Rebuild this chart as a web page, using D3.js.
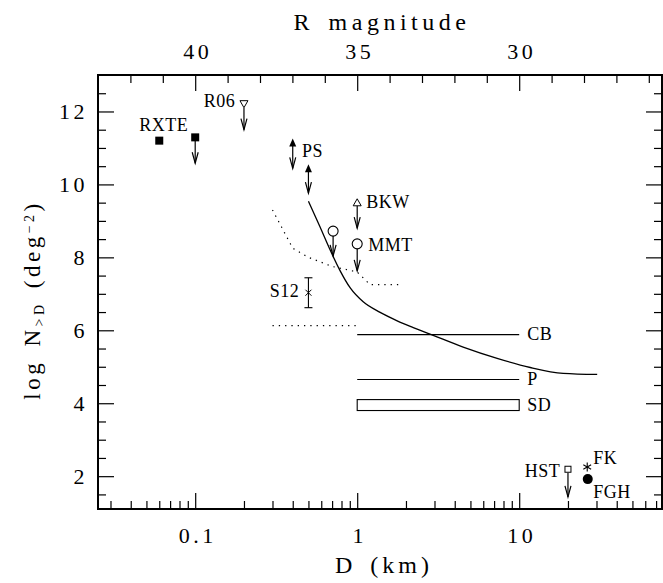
<!DOCTYPE html>
<html>
<head>
<meta charset="utf-8">
<script src="https://cdn.jsdelivr.net/npm/d3@7"></script>
<style>
  body { margin: 0; background: #fff; }
  text { font-family: "Liberation Serif", serif; fill: #000; }
</style>
</head>
<body>
<div id="chart"></div>
<script>
// model cumulative curve (solid)
const curveD = [0.5, 0.59, 0.681, 0.785, 0.906, 1.089, 1.386, 1.766, 2.218, 2.945, 4.51, 7.31, 11.7, 18.7, 30.3];
const curveN = [9.54, 8.83, 8.20, 7.63, 7.16, 6.78, 6.49, 6.26, 6.075, 5.86, 5.54, 5.23, 4.98, 4.82, 4.79];

// dotted curves
const dotD = [0.3, 0.4, 0.5, 0.7, 1.0, 1.2, 1.8];
const dotN = [9.3, 8.25, 8.0, 7.75, 7.6, 7.25, 7.25];
const dot2D = [0.3, 1.0];
const dot2N = [6.13, 6.13];

// horizontal ranges CB, P and the SD box
const bandD = [1, 10];
const cbN = 5.88;
const pN = 4.65;
const sdN = [3.80, 4.10];

// upper limits: marker at top, arrow down
const limD = [0.1, 0.2, 0.71, 1.0, 1.0, 20];
const limTop = [11.29, 12.2, 8.72, 8.37, 9.51, 2.19];
const limBot = [10.58, 11.5, 8.04, 7.63, 8.80, 1.43];
const limSym = ["fsquare", "dtri", "circle", "circle", "utri", "osquare"];

// PS ranges
const psD = [0.4, 0.5];
const psHi = [11.26, 10.55];
const psLo = [10.44, 9.76];

// single points
const rxteD = 0.06, rxteN = 11.2;
const fkD = 26.3, fkN = 2.25;
const fghD = 26.5, fghN = 1.92;

// S12 error bar
const s12D = 0.5, s12N = 7.03, s12Lo = 6.62, s12Hi = 7.44;

// labels (anchor in data units)
const labelText = ["RXTE", "R06", "PS", "BKW", "MMT", "S12", "CB", "P", "SD", "HST", "FK", "FGH"];
const labelD = [0.064, 0.177, 0.457, 1.137, 1.17, 0.439, 11.2, 11.2, 11.2, 17.9, 28.6, 28.6];
const labelN = [11.47, 12.13, 10.75, 9.35, 8.17, 6.91, 5.73, 4.50, 3.78, 1.98, 2.33, 1.40];
const labelAnchor = ["middle", "end", "start", "start", "start", "end", "start", "start", "start", "end", "start", "start"];

// axis ticks
const xMajor = [0.1, 1, 10];
const yMajor = [2, 4, 6, 8, 10, 12];
const rMajor = [30, 35, 40];

var width = 663, height = 583;
var L = 98, R = 663, T = 75, B = 509;

var svg = d3.select("#chart")
  .append("svg")
    .attr("width", width)
    .attr("height", height);

var x = d3.scaleLog()
  .domain([Math.pow(10, -1.6), Math.pow(10, -1.6 + (R - L) / 162)])
  .range([L, R]);
var y = d3.scaleLinear().domain([1.1, 13]).range([B, T]);
// R magnitude = 35 - 5 log D
var xTop = d3.scaleLinear()
  .domain([35 - 5 * Math.log10(x.domain()[0]), 35 - 5 * Math.log10(x.domain()[1])])
  .range([L, R]);

// minor tick values
var xMinor = [];
[0.01, 0.1, 1, 10].forEach(function(dec) {
  for (var m = 2; m <= 9; m++) {
    var v = dec * m;
    if (v > x.domain()[0] && v < x.domain()[1]) xMinor.push(v);
  }
});
var yMinor = d3.range(1.5, 13, 0.5).filter(function(v) { return v % 2 !== 0; });
var rMinor = d3.range(26, 43, 1).filter(function(v) { return v % 5 !== 0; });

function styleAxis(g) {
  g.attr("font-size", null).attr("font-family", null);
  g.select(".domain").remove();
  g.selectAll(".tick line").attr("stroke", "#000").attr("stroke-width", 1.2);
  g.selectAll(".tick text")
    .style("font-size", "22px")
    .attr("letter-spacing", "3.5px")
    .attr("fill", "#000");
}

// bottom axis
svg.append("g").attr("transform", "translate(0," + B + ")")
  .call(d3.axisBottom(x).tickValues(xMajor).tickSize(-16).tickPadding(18)
    .tickFormat(function(d) { return d === 0.1 ? "0.1" : String(d); }))
  .call(styleAxis)
  .selectAll(".tick text").attr("dx", "2px");
svg.append("g").attr("transform", "translate(0," + B + ")")
  .call(d3.axisBottom(x).tickValues(xMinor).tickSize(-8).tickFormat(""))
  .call(styleAxis);

// top axis
svg.append("g").attr("transform", "translate(0," + T + ")")
  .call(d3.axisTop(xTop).tickValues(rMajor).tickSize(-16).tickPadding(16))
  .call(styleAxis)
  .selectAll(".tick text").attr("dx", "2px");
svg.append("g").attr("transform", "translate(0," + T + ")")
  .call(d3.axisTop(xTop).tickValues(rMinor).tickSize(-8).tickFormat(""))
  .call(styleAxis);

// left axis
svg.append("g").attr("transform", "translate(" + L + ",0)")
  .call(d3.axisLeft(y).tickValues(yMajor).tickSize(-16).tickPadding(10))
  .call(styleAxis);
svg.append("g").attr("transform", "translate(" + L + ",0)")
  .call(d3.axisLeft(y).tickValues(yMinor).tickSize(-8).tickFormat(""))
  .call(styleAxis);

// right axis
svg.append("g").attr("transform", "translate(" + (R - 1) + ",0)")
  .call(d3.axisRight(y).tickValues(yMajor).tickSize(-16).tickFormat(""))
  .call(styleAxis);
svg.append("g").attr("transform", "translate(" + (R - 1) + ",0)")
  .call(d3.axisRight(y).tickValues(yMinor).tickSize(-8).tickFormat(""))
  .call(styleAxis);

// frame
svg.append("rect")
  .attr("x", L).attr("y", T)
  .attr("width", R - 1 - L).attr("height", B - T)
  .attr("fill", "none").attr("stroke", "#000").attr("stroke-width", 2);

// axis titles
svg.append("text")
  .attr("x", 382).attr("y", 30)
  .attr("text-anchor", "middle")
  .style("font-size", "24px").attr("letter-spacing", "4.5px").attr("word-spacing", "4px")
  .text("R magnitude");
svg.append("text")
  .attr("x", 384).attr("y", 573)
  .attr("text-anchor", "middle")
  .style("font-size", "24px").attr("letter-spacing", "4px").attr("word-spacing", "4px")
  .text("D (km)");

var ytitle = svg.append("text")
  .attr("transform", "translate(40,300) rotate(-90)")
  .attr("text-anchor", "middle")
  .style("font-size", "23px").attr("letter-spacing", "3.5px").attr("word-spacing", "4px");
ytitle.append("tspan").text("log N");
ytitle.append("tspan").attr("baseline-shift", "-25%").style("font-size", "14px").text(">D");
ytitle.append("tspan").text(" (deg");
ytitle.append("tspan").attr("baseline-shift", "45%").style("font-size", "14px").text("\u22122");
ytitle.append("tspan").text(")");

// lines
var line = d3.line()
  .x(function(d) { return x(d[0]); })
  .y(function(d) { return y(d[1]); });

svg.append("path")
  .datum(d3.zip(curveD, curveN))
  .attr("d", line.curve(d3.curveMonotoneX))
  .attr("fill", "none").attr("stroke", "#000").attr("stroke-width", 1.3);

line.curve(d3.curveLinear);
[[dotD, dotN], [dot2D, dot2N]].forEach(function(s) {
  svg.append("path")
    .datum(d3.zip(s[0], s[1]))
    .attr("d", line)
    .attr("fill", "none").attr("stroke", "#000").attr("stroke-width", 1.2)
    .attr("stroke-dasharray", "1.3,5");
});

// CB and P
[cbN, pN].forEach(function(n) {
  svg.append("line")
    .attr("x1", x(bandD[0])).attr("x2", x(bandD[1]))
    .attr("y1", y(n)).attr("y2", y(n))
    .attr("stroke", "#000").attr("stroke-width", 1.1);
});
// SD box
svg.append("rect")
  .attr("x", x(bandD[0])).attr("y", y(sdN[1]))
  .attr("width", x(bandD[1]) - x(bandD[0]))
  .attr("height", y(sdN[0]) - y(sdN[1]))
  .attr("fill", "none").attr("stroke", "#000").attr("stroke-width", 1.1);

// arrow: line from y0 down to y1 with open head
function downArrow(px, y0, y1) {
  svg.append("line")
    .attr("x1", px).attr("x2", px).attr("y1", y0).attr("y2", y1)
    .attr("stroke", "#000").attr("stroke-width", 1.2);
  svg.append("path")
    .attr("d", "M" + (px - 3) + "," + (y1 - 11) + "L" + px + "," + y1 + "L" + (px + 3) + "," + (y1 - 11))
    .attr("fill", "none").attr("stroke", "#000").attr("stroke-width", 1.2);
}

function marker(sym, px, py) {
  if (sym === "fsquare") {
    svg.append("rect").attr("x", px - 4).attr("y", py - 4).attr("width", 8).attr("height", 8).attr("fill", "#000");
  } else if (sym === "osquare") {
    svg.append("rect").attr("x", px - 3).attr("y", py - 3).attr("width", 6).attr("height", 6)
      .attr("fill", "#fff").attr("stroke", "#000").attr("stroke-width", 1);
  } else if (sym === "circle") {
    svg.append("circle").attr("cx", px).attr("cy", py).attr("r", 5)
      .attr("fill", "#fff").attr("stroke", "#000").attr("stroke-width", 1.1);
  } else if (sym === "dtri") {
    svg.append("path").attr("d", "M" + (px - 4) + "," + (py - 3.5) + "L" + (px + 4) + "," + (py - 3.5) + "L" + px + "," + (py + 3.5) + "Z")
      .attr("fill", "#fff").attr("stroke", "#000").attr("stroke-width", 1);
  } else if (sym === "utri") {
    svg.append("path").attr("d", "M" + (px - 4) + "," + (py + 3.5) + "L" + (px + 4) + "," + (py + 3.5) + "L" + px + "," + (py - 3.5) + "Z")
      .attr("fill", "#fff").attr("stroke", "#000").attr("stroke-width", 1);
  }
}

// upper limits
limD.forEach(function(d, i) {
  var px = x(d), py = y(limTop[i]);
  var off = limSym[i] === "circle" ? 5 : 3.5;
  downArrow(px, py + off, y(limBot[i]));
  marker(limSym[i], px, py);
});

// PS ranges
psD.forEach(function(d, i) {
  var px = x(d), yt = y(psHi[i]), yb = y(psLo[i]);
  downArrow(px, yt + 6, yb);
  svg.append("path")
    .attr("d", "M" + (px - 3.5) + "," + (yt + 8) + "L" + px + "," + yt + "L" + (px + 3.5) + "," + (yt + 8) + "Z")
    .attr("fill", "#000");
});

// RXTE point
marker("fsquare", x(rxteD), y(rxteN));

// FGH filled circle
svg.append("circle").attr("cx", x(fghD)).attr("cy", y(fghN)).attr("r", 5).attr("fill", "#000");

// FK asterisk
(function() {
  var px = x(fkD), py = y(fkN), r = 4.5;
  [0, 60, 120].forEach(function(a) {
    var rad = a * Math.PI / 180;
    svg.append("line")
      .attr("x1", px - r * Math.sin(rad)).attr("y1", py - r * Math.cos(rad))
      .attr("x2", px + r * Math.sin(rad)).attr("y2", py + r * Math.cos(rad))
      .attr("stroke", "#000").attr("stroke-width", 1.1);
  });
})();

// S12 error bar
(function() {
  var px = x(s12D), yl = y(s12Lo), yh = y(s12Hi), yc = y(s12N);
  svg.append("line").attr("x1", px).attr("x2", px).attr("y1", yh).attr("y2", yl)
    .attr("stroke", "#000").attr("stroke-width", 1.1);
  [yl, yh].forEach(function(yy) {
    svg.append("line").attr("x1", px - 4).attr("x2", px + 4).attr("y1", yy).attr("y2", yy)
      .attr("stroke", "#000").attr("stroke-width", 1.1);
  });
  svg.append("path")
    .attr("d", "M" + (px - 3) + "," + (yc - 3) + "L" + (px + 3) + "," + (yc + 3) + "M" + (px - 3) + "," + (yc + 3) + "L" + (px + 3) + "," + (yc - 3))
    .attr("stroke", "#000").attr("stroke-width", 1);
})();

// labels
svg.selectAll(".lbl")
  .data(labelText)
  .enter()
  .append("text")
    .attr("class", "lbl")
    .attr("x", function(d, i) { return x(labelD[i]); })
    .attr("y", function(d, i) { return y(labelN[i]); })
    .attr("text-anchor", function(d, i) { return labelAnchor[i]; })
    .style("font-size", "18px")
    .attr("letter-spacing", "0.5px")
    .text(function(d) { return d; });
</script>
</body>
</html>
